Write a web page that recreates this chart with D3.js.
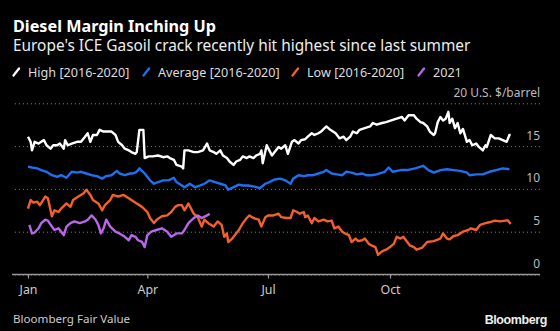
<!DOCTYPE html>
<html>
<head>
<meta charset="utf-8">
<script src="https://cdn.jsdelivr.net/npm/d3@7"></script>
<style>
    body { margin: 0; background: #000; }
    svg { display: block; font-family: "Noto Sans", sans-serif; }
</style>
</head>
<body>
<div class="chart"></div>
<script>
// [day of year, $/barrel]
var high = [[0,16.1],[2,15.5],[3,14.5],[5,15.5],[8,15.3],[12,15.7],[14,15.1],[17,14.7],[19,15.1],[22,15.1],
    [24,15.3],[27,14.7],[28,15.7],[30,15.1],[33,15.3],[37,15.5],[40,15.5],[43,16.1],[45,16.5],[47,15.5],
    [49,16.3],[52,16.3],[54,16.9],[57,16.7],[61,16.7],[63,16.7],[66,16.3],[68,15.5],[71,15.1],[73,14.7],
    [76,14.5],[78,14.3],[81,14.1],[82,14.3],[84,16.9],[87,16.9],[88,13.6],[91,13.8],[94,13.8],[98,13.9],
    [102,13.7],[105,13.8],[107,13.6],[110,13.4],[112,12.8],[116,12.6],[117,12.4],[118,14.5],[121,14.5],[125,14.3],
    [128,14.3],[132,14.5],[135,15.3],[137,14.5],[140,14.3],[142,14.1],[145,14.5],[147,13.9],[150,13.6],[152,13.2],
    [155,12.8],[157,13.2],[160,13.4],[162,13.8],[165,13.6],[167,13.8],[170,13.6],[172,13.9],[175,14.1],[176,14.5],
    [177,13.0],[180,15.1],[182,14.5],[184,13.9],[186,14.3],[189,14.9],[191,14.7],[194,15.1],[196,14.1],[199,15.5],
    [201,15.7],[204,15.3],[206,15.7],[209,15.8],[211,16.1],[214,16.5],[216,16.3],[219,16.5],[221,16.7],[225,17.3],
    [228,16.9],[232,16.5],[235,15.9],[238,16.1],[240,15.7],[243,16.1],[245,16.7],[248,16.5],[250,16.9],[254,17.1],
    [258,17.3],[260,17.7],[263,17.5],[267,17.7],[270,17.8],[274,18.0],[278,18.2],[282,18.4],[284,18.0],[287,18.6],
    [291,18.6],[293,18.2],[296,17.8],[298,17.7],[301,17.3],[303,16.7],[306,16.3],[307,16.5],[309,17.8],[311,18.4],
    [313,18.0],[315,18.2],[317,19.0],[318,17.7],[320,18.2],[322,17.1],[324,17.7],[326,16.5],[328,17.0],[331,15.5],
    [333,15.7],[335,15.1],[338,15.3],[340,14.9],[343,14.5],[345,15.1],[346,14.9],[349,16.3],[352,15.9],[355,15.9],
    [358,15.7],[361,15.5],[363,16.3],[364,16.3]];

var average = [[0,12.6],[3,12.5],[7,12.4],[10,12.2],[14,12.0],[18,11.6],[22,11.4],[25,11.6],[29,11.3],[33,12.0],
    [37,11.9],[40,12.0],[44,11.8],[48,11.6],[52,11.5],[56,11.2],[59,11.5],[63,11.6],[67,12.1],[69,11.8],
    [73,11.6],[77,11.8],[79,11.8],[82,12.0],[84,12.4],[88,11.8],[92,11.0],[95,10.6],[98,10.8],[102,11.0],
    [106,11.0],[110,11.3],[112,10.8],[116,10.4],[118,10.2],[121,10.5],[122,10.6],[126,10.2],[130,10.4],[133,10.6],
    [137,11.0],[141,10.8],[145,10.6],[149,10.4],[151,9.9],[155,10.2],[159,10.5],[162,10.4],[166,10.4],[170,10.3],
    [175,10.1],[179,10.6],[182,10.8],[186,11.1],[190,11.2],[194,11.0],[198,10.6],[200,11.2],[204,11.6],[208,11.5],
    [211,11.6],[215,11.6],[219,11.8],[223,12.0],[225,12.2],[229,11.8],[233,11.7],[237,11.6],[240,12.0],[244,11.9],
    [248,11.7],[252,11.8],[255,11.6],[259,11.6],[263,11.7],[267,11.9],[269,12.0],[272,12.5],[275,12.0],[281,12.2],
    [286,12.2],[292,12.4],[298,12.7],[302,12.2],[306,11.9],[311,12.2],[316,12.3],[321,12.2],[326,12.1],[331,11.9],
    [333,11.6],[338,11.7],[343,11.7],[348,12.0],[353,12.2],[358,12.4],[363,12.3]];

var low = [[0,7.7],[2,8.7],[4,8.4],[7,8.5],[9,8.1],[13,9.1],[15,8.9],[18,6.8],[20,7.5],[23,7.3],
    [25,7.7],[29,8.3],[32,7.9],[34,8.7],[38,9.1],[42,9.5],[44,9.9],[47,9.3],[49,8.7],[53,8.3],
    [56,7.5],[58,8.1],[62,8.7],[64,9.3],[68,9.1],[72,9.3],[76,8.9],[78,8.7],[82,8.3],[86,7.9],
    [90,7.3],[92,6.6],[95,6.0],[97,6.4],[101,6.8],[105,6.9],[108,7.3],[111,7.9],[113,8.1],[116,8.1],
    [118,7.5],[121,8.3],[125,7.1],[128,6.7],[131,5.6],[133,6.4],[136,6.0],[140,5.6],[143,6.2],[146,5.8],
    [148,4.4],[150,4.8],[151,3.8],[154,4.2],[156,4.6],[159,5.2],[162,6.0],[165,6.6],[167,6.9],[170,6.6],
    [174,6.4],[176,5.6],[179,6.7],[181,6.9],[185,6.9],[189,7.1],[191,6.7],[195,6.6],[198,6.6],[200,7.5],
    [203,7.3],[205,7.1],[208,7.3],[209,6.7],[211,6.9],[214,6.0],[216,6.6],[219,6.2],[223,6.4],[226,6.2],
    [229,6.3],[231,5.4],[234,5.6],[237,5.0],[239,4.8],[242,4.6],[244,3.8],[247,4.2],[249,3.9],[252,4.0],
    [254,4.2],[257,3.6],[259,3.4],[262,3.2],[264,2.3],[267,2.7],[270,2.9],[273,3.2],[276,3.6],[278,4.4],
    [281,4.2],[283,4.4],[286,3.8],[288,3.4],[291,3.2],[293,2.9],[297,3.1],[301,3.8],[306,3.9],[311,4.2],
    [313,4.8],[316,4.2],[318,4.1],[321,4.5],[324,4.6],[328,5.0],[332,5.2],[334,5.4],[338,5.2],[341,5.8],
    [345,6.0],[348,6.1],[352,6.3],[356,6.2],[360,6.3],[362,6.3],[364,5.9]];

var y2021 = [[1,5.8],[3,4.8],[5,4.9],[8,5.4],[10,6.0],[13,6.4],[15,6.3],[18,5.6],[20,5.2],[23,5.4],
    [25,5.0],[27,4.6],[29,5.6],[32,6.0],[35,6.2],[39,6.0],[43,6.2],[45,6.4],[48,6.9],[51,6.4],
    [53,5.8],[55,4.8],[57,5.4],[59,6.4],[62,5.6],[66,5.0],[69,4.8],[73,4.4],[76,4.0],[78,4.6],
    [81,4.4],[83,4.0],[86,3.8],[88,3.2],[90,4.6],[93,5.0],[97,5.2],[101,5.4],[105,5.0],[108,4.4],
    [112,4.8],[116,4.8],[118,5.2],[121,6.0],[125,6.6],[128,6.9],[131,6.6],[135,6.9],[137,7.1]];

var seriesNames = ["High [2016-2020]", "Average [2016-2020]", "Low [2016-2020]", "2021"];
var yTicks = [0, 5, 10, 15, 20];
var monthTicks = ["Jan", "Apr", "Jul", "Oct"];

function drawChart(){
    var w = 560;
    var h = 331;
    var left = 12;
    var right = 540;
    var colors = ["#ffffff", "#1f6fef", "#f4602c", "#b966ea"];

    var svg = d3.select(".chart")
                .append("svg")
                .attr("width", w)
                .attr("height", h)
                .style("background", "#000");

    var xScale = d3.scaleTime()
                   .domain([new Date(2021, 0, 1), new Date(2022, 0, 1)])
                   .range([28, 512]);

    var yScale = d3.scaleLinear()
                   .domain([0, 20])
                   .range([274.5, 103.3]);

    function toDate(day){
        return d3.timeDay.offset(new Date(2021, 0, 1), day);
    }

    //Title, subtitle
    svg.append("text")
        .attr("x", left + 1)
        .attr("y", 32)
        .attr("fill", "#fff")
        .style("font-size", "16.2px")
        .style("font-weight", "bold")
        .text("Diesel Margin Inching Up");

    svg.append("text")
        .attr("x", left + 1)
        .attr("y", 51)
        .attr("fill", "#eee")
        .style("font-size", "15.4px")
        .text("Europe's ICE Gasoil crack recently hit highest since last summer");

    //Legend
    var legendX = [13, 143, 292, 418];
    var legend = svg.selectAll(".legend")
        .data(seriesNames)
        .enter()
        .append("g")
        .attr("class", "legend")
        .attr("transform", function(d, i){
            return "translate(" + legendX[i] + ",77)";
        });

    legend.append("line")
        .attr("x1", 0.5).attr("y1", -1.5)
        .attr("x2", 6).attr("y2", -8.5)
        .attr("stroke", function(d, i){ return colors[i]; })
        .attr("stroke-width", 2.3)
        .attr("stroke-linecap", "round");

    legend.append("text")
        .attr("x", 15)
        .attr("y", 0)
        .attr("fill", "#ddd")
        .style("font-size", "12.6px")
        .text(function(d){ return d; });

    //Gridlines + right labels
    var yAxis = d3.axisLeft(yScale)
                  .tickValues(yTicks)
                  .tickSize(right - left)
                  .tickFormat(function(d){
                      return d == 20 ? "20 U.S. $/barrel" : d;
                  });

    var yG = svg.append("g")
        .attr("transform", "translate(" + right + ",0)")
        .call(yAxis);
    yG.select(".domain").remove();
    yG.selectAll("line")
        .attr("stroke", "#777")
        .attr("stroke-width", 1)
        .attr("stroke-dasharray", "1.2,2.8");
    yG.selectAll("text")
        .attr("x", 0)
        .attr("dy", -7)
        .attr("text-anchor", "end")
        .attr("fill", "#bbb")
        .style("font-size", "12px")
        .style("font-family", "Noto Sans");

    //Lines
    var line = d3.line()
                 .x(function(d){ return xScale(toDate(d[0])); })
                 .y(function(d){ return yScale(d[1]); });

    var allSeries = [high, average, low, y2021];
    svg.selectAll(".series")
        .data(allSeries)
        .enter()
        .append("path")
        .attr("class", "series")
        .attr("d", line)
        .attr("fill", "none")
        .attr("stroke", function(d, i){ return colors[i]; })
        .attr("stroke-width", 2.4)
        .attr("stroke-linejoin", "round");

    //X axis
    svg.append("line")
        .attr("x1", left)
        .attr("x2", right)
        .attr("y1", yScale(0))
        .attr("y2", yScale(0))
        .attr("stroke", "#999")
        .attr("stroke-width", 1.5);

    var xAxis = d3.axisBottom(xScale)
                  .tickValues(monthTicks.map(function(m, i){ return new Date(2021, i * 3, 1); }))
                  .tickSize(4)
                  .tickPadding(7)
                  .tickFormat(function(d, i){ return monthTicks[i]; });

    var xG = svg.append("g")
        .attr("transform", "translate(0," + yScale(0) + ")")
        .call(xAxis);
    xG.select(".domain").remove();
    xG.selectAll("line").attr("stroke", "#999").attr("stroke-width", 1.2);
    xG.selectAll("text")
        .attr("fill", "#ccc")
        .style("font-size", "12.4px")
        .style("font-family", "Noto Sans");

    //Footer
    svg.append("text")
        .attr("x", left + 1)
        .attr("y", 323)
        .attr("fill", "#ccc")
        .style("font-size", "11.6px")
        .text("Bloomberg Fair Value");

    svg.append("text")
        .attr("x", 547)
        .attr("y", 324)
        .attr("text-anchor", "end")
        .attr("fill", "#eee")
        .style("font-family", "Liberation Sans, Arial, sans-serif")
        .style("font-weight", "bold")
        .style("font-size", "12.5px")
        .style("letter-spacing", "-0.4px")
        .text("Bloomberg");
}

drawChart();
</script>
</body>
</html>
